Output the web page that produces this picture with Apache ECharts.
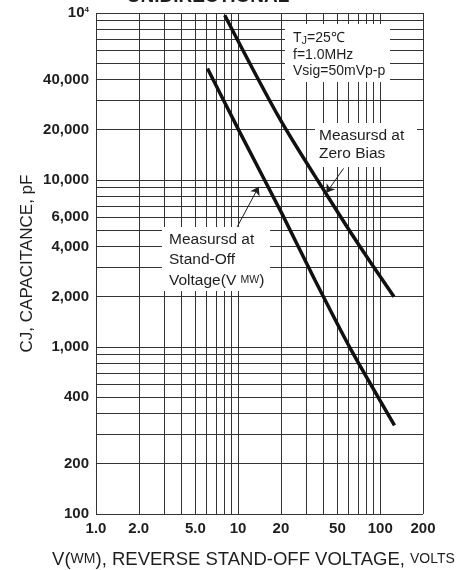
<!DOCTYPE html>
<html style="height: 100%">
<head>
<meta charset="utf-8">
</head>
<body style="height: 100%; margin: 0; background: #fff">
<div id="container" style="width: 467px; height: 570px"></div>
<script type="text/javascript" src="https://cdn.jsdelivr.net/npm/echarts@6/dist/echarts.min.js"></script>
<script type="text/javascript">
// curves: voltage (V) -> capacitance (pF)
var zeroBiasV = [8.05, 19.9, 42.9, 69.5, 125];
var zeroBiasC = [97000, 22800, 7940, 4180, 2000];
var standOffV = [6.09, 10.1, 20.3, 34.7, 62.4, 126];
var standOffC = [46500, 19900, 6310, 2520, 961, 339];

// log grid
var xGrid = [1, 2, 3, 4, 5, 6, 7, 8, 9, 10, 20, 30, 40, 50, 60, 70, 80, 90, 100, 200];
var yGrid = [100, 200, 300, 400, 500, 600, 700, 800, 900,
             1000, 2000, 3000, 4000, 5000, 6000, 7000, 8000, 9000,
             10000, 20000, 30000, 40000, 50000, 60000, 70000, 80000, 90000, 100000];

// tick labels (as printed on the original sheet, "400" sits on the 500 line, "10^4" on the top line)
var xTicks = [1, 2, 5, 10, 20, 50, 100, 200];
var xTickText = ['1.0', '2.0', '5.0', '10', '20', '50', '100', '200'];
var yTicks = [100, 200, 500, 1000, 2000, 4000, 6000, 10000, 20000, 40000, 100000];
var yTickText = ['100', '200', '400', '1,000', '2,000', '4,000', '6,000', '10,000', '20,000', '40,000', '{big|10}{sup|4}'];

// annotation arrows: [from, to] in (V, pF)
var zeroBiasArrow = [[55.2, 11730], [41.8, 8380]];
var standOffArrow = [[9.86, 5250], [13.96, 9100]];

var FONT = '"Liberation Sans", Arial, Helvetica, sans-serif';
var INK = '#1e1e1e';

function pairs(xs, ys) {
    return xs.map(function (x, i) { return [x, ys[i]]; });
}

function tickLabel(text, dist) {
    return {
        show: true, position: 'start', distance: dist, formatter: text,
        fontFamily: FONT, fontSize: 15, fontWeight: 'bold', color: INK,
        rich: {
            big: { fontFamily: FONT, fontSize: 15, fontWeight: 'bold', color: INK },
            sup: { fontFamily: FONT, fontSize: 8, fontWeight: 'bold', color: INK, verticalAlign: 'top' }
        }
    };
}

var gridItems = [];
xGrid.forEach(function (v) {
    var k = xTicks.indexOf(v);
    var item = { xAxis: v };
    if (k >= 0) item.label = tickLabel(xTickText[k], 7);
    gridItems.push(item);
});
yGrid.forEach(function (v) {
    var k = yTicks.indexOf(v);
    var item = { yAxis: v };
    if (k >= 0) item.label = tickLabel(yTickText[k], 7);
    gridItems.push(item);
});

var dom = document.getElementById('container');
var myChart = echarts.init(dom, null, { renderer: 'canvas' });

var option = {
    animation: false,
    backgroundColor: '#fff',
    grid: { left: 96, right: 44, top: 13, bottom: 56, containLabel: false, outerBoundsMode: 'none' },
    xAxis: {
        type: 'log',
        logBase: 10,
        min: 1,
        max: 200,
        axisLine: { show: false },
        axisTick: { show: false },
        axisLabel: { show: false },
        splitLine: { show: false },
        name: '{n|V(}{s|WM}{n|), REVERSE STAND-OFF VOLTAGE, }{s|VOLTS}',
        nameLocation: 'middle',
        nameGap: 36,
        nameTextStyle: {
            padding: [0, 12, 0, 0],
            rich: {
                n: { fontFamily: FONT, fontSize: 18.5, color: INK },
                s: { fontFamily: FONT, fontSize: 14, color: INK }
            }
        }
    },
    yAxis: {
        type: 'log',
        logBase: 10,
        min: 100,
        max: 100000,
        axisLine: { show: false },
        axisTick: { show: false },
        axisLabel: { show: false },
        splitLine: { show: false },
        name: 'CJ, CAPACITANCE, pF',
        nameLocation: 'middle',
        nameGap: 60,
        nameTextStyle: { fontFamily: FONT, fontSize: 17, color: INK }
    },
    graphic: [
        {
            type: 'text', x: 208, y: -3, z: 20,
            style: {
                text: 'UNIDIRECTIONAL', fill: INK, align: 'center', verticalAlign: 'middle',
                font: 'bold 19px ' + FONT
            }
        },
        {
            type: 'group', z: 20,
            children: [
                { type: 'rect', z: 20, shape: { x: 285, y: 24, width: 105, height: 58 }, style: { fill: '#fff' } },
                {
                    type: 'text', x: 293, y: 30, z: 21,
                    style: {
                        text: 'T{sub|J}=25℃\nf=1.0MHz\nVsig=50mVp-p',
                        fill: INK, font: '14px ' + FONT, lineHeight: 16.5,
                        rich: { sub: { fontSize: 11, fontFamily: FONT, fill: INK, verticalAlign: 'bottom' } }
                    }
                }
            ]
        },
        {
            type: 'group', z: 20,
            children: [
                { type: 'rect', z: 20, shape: { x: 315, y: 123, width: 102, height: 44 }, style: { fill: '#fff' } },
                {
                    type: 'text', x: 319, y: 127, z: 21,
                    style: { text: 'Measursd at\nZero Bias', fill: INK, font: '15.5px ' + FONT, lineHeight: 18 }
                }
            ]
        },
        {
            type: 'group', z: 20,
            children: [
                { type: 'rect', z: 20, shape: { x: 162, y: 227, width: 108, height: 64 }, style: { fill: '#fff' } },
                {
                    type: 'text', x: 169, y: 229, z: 21,
                    style: {
                        text: 'Measursd at\nStand-Off\nVoltage(V {sc|MW})',
                        fill: INK, font: '15.5px ' + FONT, lineHeight: 20.5,
                        rich: { sc: { fontSize: 10.5, fontFamily: FONT, fill: INK } }
                    }
                }
            ]
        }
    ],
    series: [
        {
            name: 'grid',
            type: 'line',
            data: [],
            silent: true,
            markLine: {
                silent: true,
                z: 1,
                symbol: 'none',
                animation: false,
                lineStyle: { color: '#333', width: 1, type: 'solid' },
                label: { show: false },
                emphasis: { disabled: true },
                data: gridItems
            }
        },
        {
            name: 'Zero Bias',
            type: 'line',
            z: 3,
            data: pairs(zeroBiasV, zeroBiasC),
            symbol: 'none',
            smooth: 0.3,
            lineStyle: { color: '#111', width: 3.5 }
        },
        {
            name: 'Stand-Off Voltage',
            type: 'line',
            z: 3,
            data: pairs(standOffV, standOffC),
            symbol: 'none',
            smooth: 0.2,
            lineStyle: { color: '#111', width: 3.5 }
        },
        {
            name: 'arrows',
            type: 'line',
            data: [],
            silent: true,
            markLine: {
                silent: true,
                z: 30,
                symbol: ['none', 'arrow'],
                symbolSize: 8,
                animation: false,
                lineStyle: { color: INK, width: 1, type: 'solid' },
                label: { show: false },
                emphasis: { disabled: true },
                data: [
                    [{ coord: zeroBiasArrow[0] }, { coord: zeroBiasArrow[1] }],
                    [{ coord: standOffArrow[0] }, { coord: standOffArrow[1] }]
                ]
            }
        }
    ]
};

if (option && typeof option === 'object') {
    myChart.setOption(option, true);
}
</script>
</body>
</html>
